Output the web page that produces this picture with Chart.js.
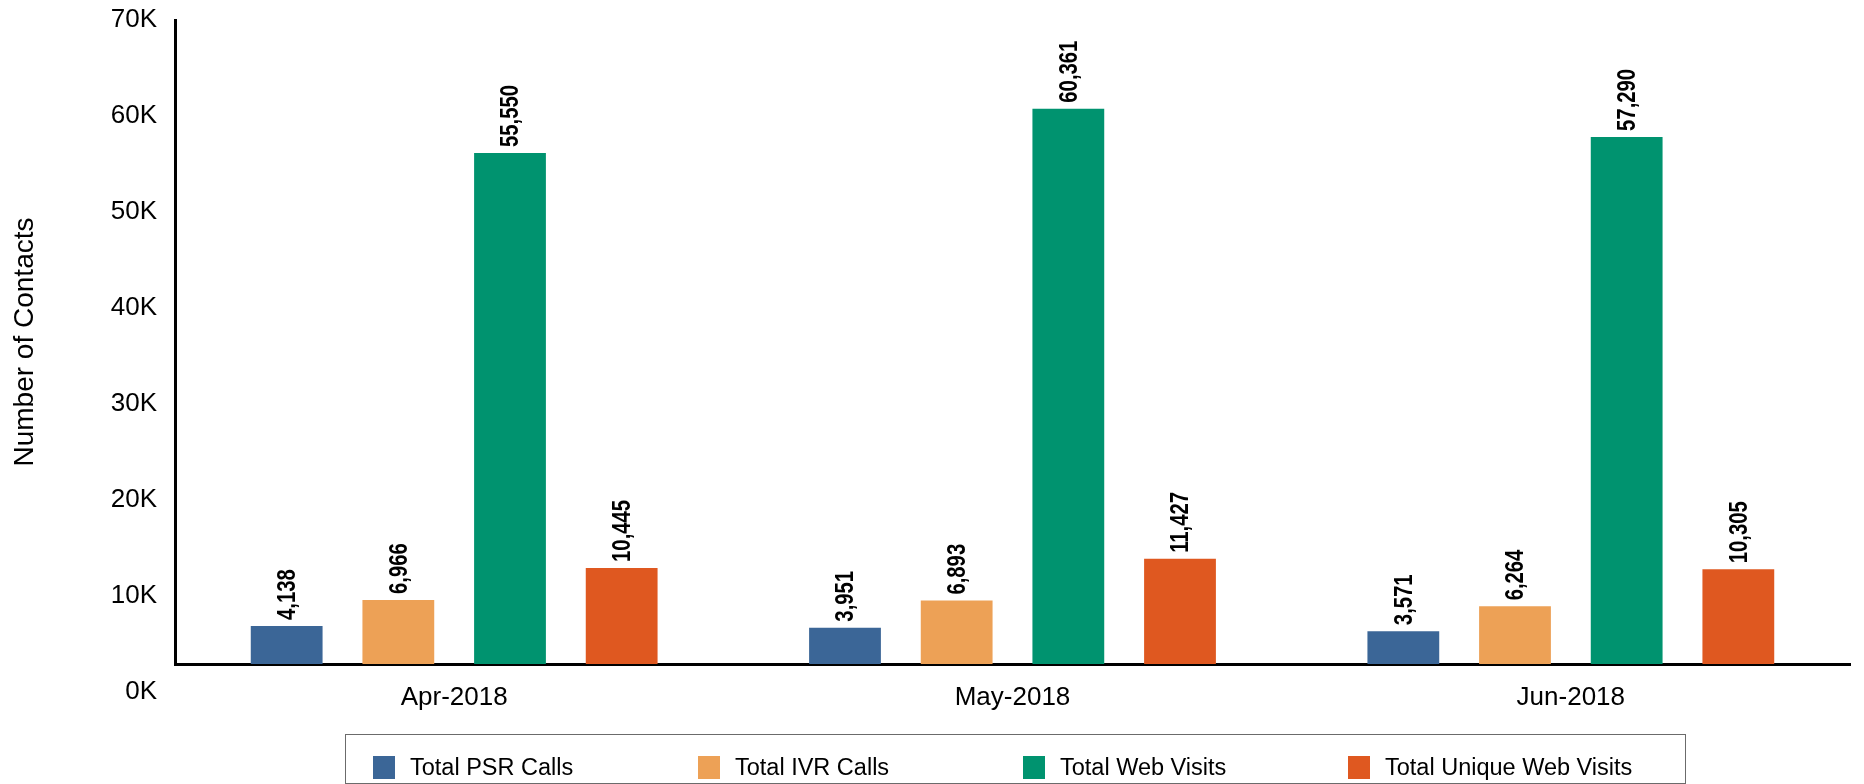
<!DOCTYPE html>
<html>
<head>
<meta charset="utf-8">
<title>Contacts by Month</title>
<script src="https://cdn.jsdelivr.net/npm/chart.js@4.4.1/dist/chart.umd.min.js"></script>
<style>
  html, body { margin: 0; padding: 0; background: #ffffff; }
  #wrap { position: relative; width: 1864px; height: 784px; }
  #chart { position: absolute; left: 0; top: 0; }
  #legend {
    position: absolute; left: 345px; top: 734px; width: 1341px; height: 50px;
    box-sizing: border-box; border: 1.5px solid #6b6b6b;
    display: flex; align-items: flex-start; padding: 21px 0 0 27px;
  }
  .item { width: 325px; display: flex; align-items: center; height: 23px;
    font: 23.5px "Liberation Sans", Arial, sans-serif; color: #000; white-space: nowrap; }
  .sw { width: 22px; height: 23px; margin-right: 15px; flex: none; }
</style>
</head>
<body>
<div id="wrap">
  <canvas id="chart" width="1864" height="784"></canvas>
  <div id="legend"></div>
</div>
<script>
// Months on the category axis
const months = ['Apr-2018', 'May-2018', 'Jun-2018'];

// Contact counts per month
const psrCalls = [4138, 3951, 3571];
const ivrCalls = [6966, 6893, 6264];
const webVisits = [55550, 60361, 57290];
const uniqueWebVisits = [10445, 11427, 10305];

// Series names and colours
const seriesNames = ['Total PSR Calls', 'Total IVR Calls', 'Total Web Visits', 'Total Unique Web Visits'];
const seriesColors = ['#3b6697', '#eda156', '#00936f', '#df5820'];

// Value-axis tick labels
const yTickValues = [0, 10000, 20000, 30000, 40000, 50000, 60000, 70000];

const FONT = '"Liberation Sans", Arial, sans-serif';

// Vertical, narrow bold value labels above each bar
const valueLabels = {
  id: 'valueLabels',
  afterDatasetsDraw(chart) {
    const ctx = chart.ctx;
    ctx.save();
    ctx.font = 'bold 26px ' + FONT;
    ctx.fillStyle = '#000';
    ctx.textAlign = 'left';
    ctx.textBaseline = 'middle';
    chart.data.datasets.forEach((ds, i) => {
      chart.getDatasetMeta(i).data.forEach((bar, j) => {
        ctx.save();
        ctx.translate(bar.x, bar.y - 6);
        ctx.rotate(-Math.PI / 2);
        ctx.scale(0.78, 1);
        ctx.fillText(ds.data[j].toLocaleString('en-US'), 0, 1);
        ctx.restore();
      });
    });
    ctx.restore();
  }
};

const seriesData = [psrCalls, ivrCalls, webVisits, uniqueWebVisits];

const chart = new Chart(document.getElementById('chart'), {
  type: 'bar',
  data: {
    labels: months,
    datasets: seriesNames.map((name, i) => ({
      label: name,
      data: seriesData[i],
      backgroundColor: seriesColors[i],
      borderWidth: 0,
      categoryPercentage: 0.8,
      barPercentage: 0.643
    }))
  },
  options: {
    responsive: false,
    animation: false,
    layout: { padding: { top: 20, right: 14, left: 0, bottom: 0 } },
    plugins: {
      legend: { display: false },
      tooltip: { enabled: false }
    },
    scales: {
      x: {
        grid: { display: false, drawTicks: false },
        border: { display: true, color: '#000', width: 3 },
        ticks: { color: '#000', font: { family: FONT, size: 26 }, padding: 18 },
        afterFit(axis) { axis.height = 120; axis.paddingLeft = 0; axis.paddingRight = 0; }
      },
      y: {
        display: false,
        min: 0,
        max: 70000
      },
      yl: {
        position: 'left',
        min: 2917,
        max: 70000,
        grid: { display: false, drawTicks: false },
        border: { display: true, color: '#000', width: 3 },
        afterBuildTicks(axis) { axis.ticks = yTickValues.map(value => ({ value })); },
        ticks: {
          autoSkip: false,
          color: '#000',
          padding: 18,
          font: { family: FONT, size: 26 },
          callback: (v) => (v / 1000) + 'K'
        },
        title: {
          display: true,
          text: 'Number of Contacts',
          color: '#000',
          font: { family: FONT, size: 28 },
          padding: { top: 8, bottom: 0 }
        },
        afterFit(axis) { axis.width = 175; axis.paddingTop = 0; axis.paddingBottom = 0; }
      }
    }
  },
  plugins: [valueLabels]
});

// Legend built from the chart's own datasets
const legendEl = document.getElementById('legend');
chart.data.datasets.forEach(ds => {
  const item = document.createElement('div');
  item.className = 'item';
  const sw = document.createElement('span');
  sw.className = 'sw';
  sw.style.background = ds.backgroundColor;
  const txt = document.createElement('span');
  txt.textContent = ds.label;
  item.appendChild(sw);
  item.appendChild(txt);
  legendEl.appendChild(item);
});
</script>
</body>
</html>
